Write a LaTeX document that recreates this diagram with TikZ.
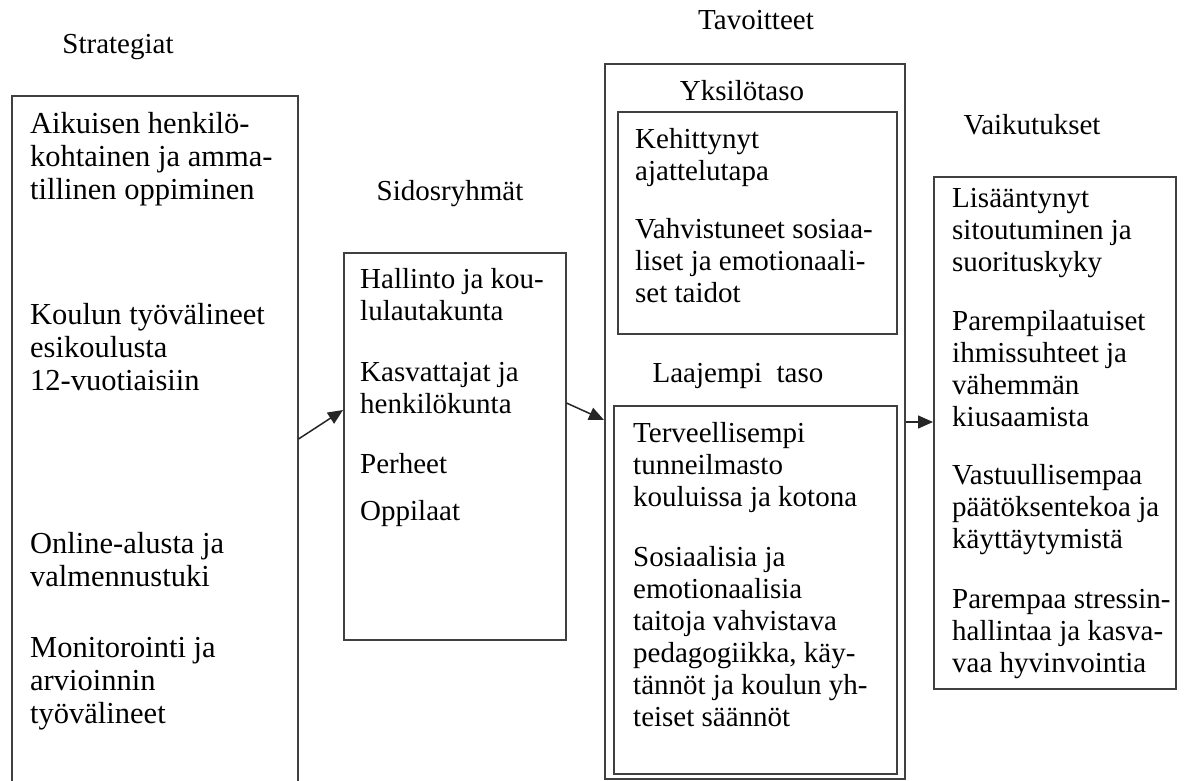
\documentclass[tikz,border=0pt]{standalone}
\usepackage{fontspec}
\setmainfont{Liberation Serif}
\usetikzlibrary{arrows.meta}

\newcommand{\lines}[1]{\parbox[t]{300pt}{\raggedright #1}}

\tikzset{
  frame/.style={draw=black!75, line width=1.5pt, inner sep=0pt, anchor=north west},
  txt/.style={inner sep=0pt, anchor=base west, font=\fontsize{29}{32}\selectfont},
  bigtxt/.style={txt, font=\fontsize{30.5}{33}\selectfont},
  ttl/.style={inner sep=0pt, anchor=base, font=\fontsize{29}{32}\selectfont},
  conn/.style={draw=black!85, line width=1.5pt, -{Triangle[length=15pt,width=13pt]}},
}

\begin{document}
\begin{tikzpicture}[x=1pt, y=-1pt]
\useasboundingbox (0,0) rectangle (1201,780);
\clip (0,0) rectangle (1201,780);

% column titles
\node[ttl] (tStrat) at (118,53) {Strategiat};
\node[ttl] (tSidos) at (450,200) {Sidosryhmät};
\node[ttl] (tTav)   at (756,29)  {Tavoitteet};
\node[ttl] (tVaik)  at (1032,134) {Vaikutukset};

% strategies (the frame runs on below the page edge)
\node[frame, minimum width=286pt, minimum height=720pt] (strat) at (11,95) {};
\node[bigtxt] (s1) at (30,133) {\lines{Aikuisen henkilö-\\kohtainen ja amma-\\tillinen oppiminen}};
\node[bigtxt] (s2) at (30,324) {\lines{Koulun työvälineet\\esikoulusta\\12-vuotiaisiin}};
\node[bigtxt] (s3) at (30,553) {\lines{Online-alusta ja\\valmennustuki}};
\node[bigtxt] (s4) at (30,657) {\lines{Monitorointi ja\\arvioinnin\\työvälineet}};

% stakeholders
\node[frame, minimum width=222pt, minimum height=387pt] (sidos) at (343,252) {};
\node[txt] (g1) at (360,288) {\lines{Hallinto ja kou-\\lulautakunta}};
\node[txt] (g2) at (360,381) {\lines{Kasvattajat ja\\henkilökunta}};
\node[txt] (g3) at (360,473) {Perheet};
\node[txt] (g4) at (360,520) {Oppilaat};

% goals
\node[frame, minimum width=300pt, minimum height=715pt] (tav) at (604,63) {};
\node[ttl] (tYks) at (742,100) {Yksilötaso};
\node[frame, minimum width=279pt, minimum height=222pt] (yks) at (617,111) {};
\node[txt] (y1) at (635,148) {\lines{Kehittynyt\\ajattelutapa}};
\node[txt] (y2) at (635,238) {\lines{Vahvistuneet sosiaa-\\liset ja emotionaali-\\set taidot}};
\node[ttl] (tLaaj) at (738,382) {Laajempi\ \ taso};
\node[frame, minimum width=283pt, minimum height=368pt] (laaj) at (613,405) {};
\node[txt] (l1) at (633,442) {\lines{Terveellisempi\\tunneilmasto\\kouluissa ja kotona}};
\node[txt] (l2) at (633,566) {\lines{Sosiaalisia ja\\emotionaalisia\\taitoja vahvistava\\pedagogiikka, käy-\\tännöt ja koulun yh-\\teiset säännöt}};

% outcomes
\node[frame, minimum width=242pt, minimum height=512pt] (vaik) at (933,176) {};
\node[txt] (v1) at (952,207) {\lines{Lisääntynyt\\sitoutuminen ja\\suorituskyky}};
\node[txt] (v2) at (952,330) {\lines{Parempilaatuiset\\ihmissuhteet ja\\vähemmän\\kiusaamista}};
\node[txt] (v3) at (952,484) {\lines{Vastuullisempaa\\päätöksentekoa ja\\käyttäytymistä}};
\node[txt] (v4) at (952,608) {\lines{Parempaa stressin-\\hallintaa ja kasva-\\vaa hyvinvointia}};

% connector end points on the frames
\path (strat.north east) ++(0,344) coordinate (a1s);
\path (sidos.north west) ++(0,158) coordinate (a1e);
\path (sidos.north east) ++(0,151) coordinate (a2s);
\path (tav.north west)   ++(0,357) coordinate (a2e);
\path (tav.north east)   ++(0,359) coordinate (a3s);
\path (vaik.north west)  ++(0,246) coordinate (a3e);

\draw[conn] (a1s) -- (a1e);
\draw[conn] (a2s) -- (a2e);
\draw[conn] (a3s) -- (a3e);
\end{tikzpicture}
\end{document}
